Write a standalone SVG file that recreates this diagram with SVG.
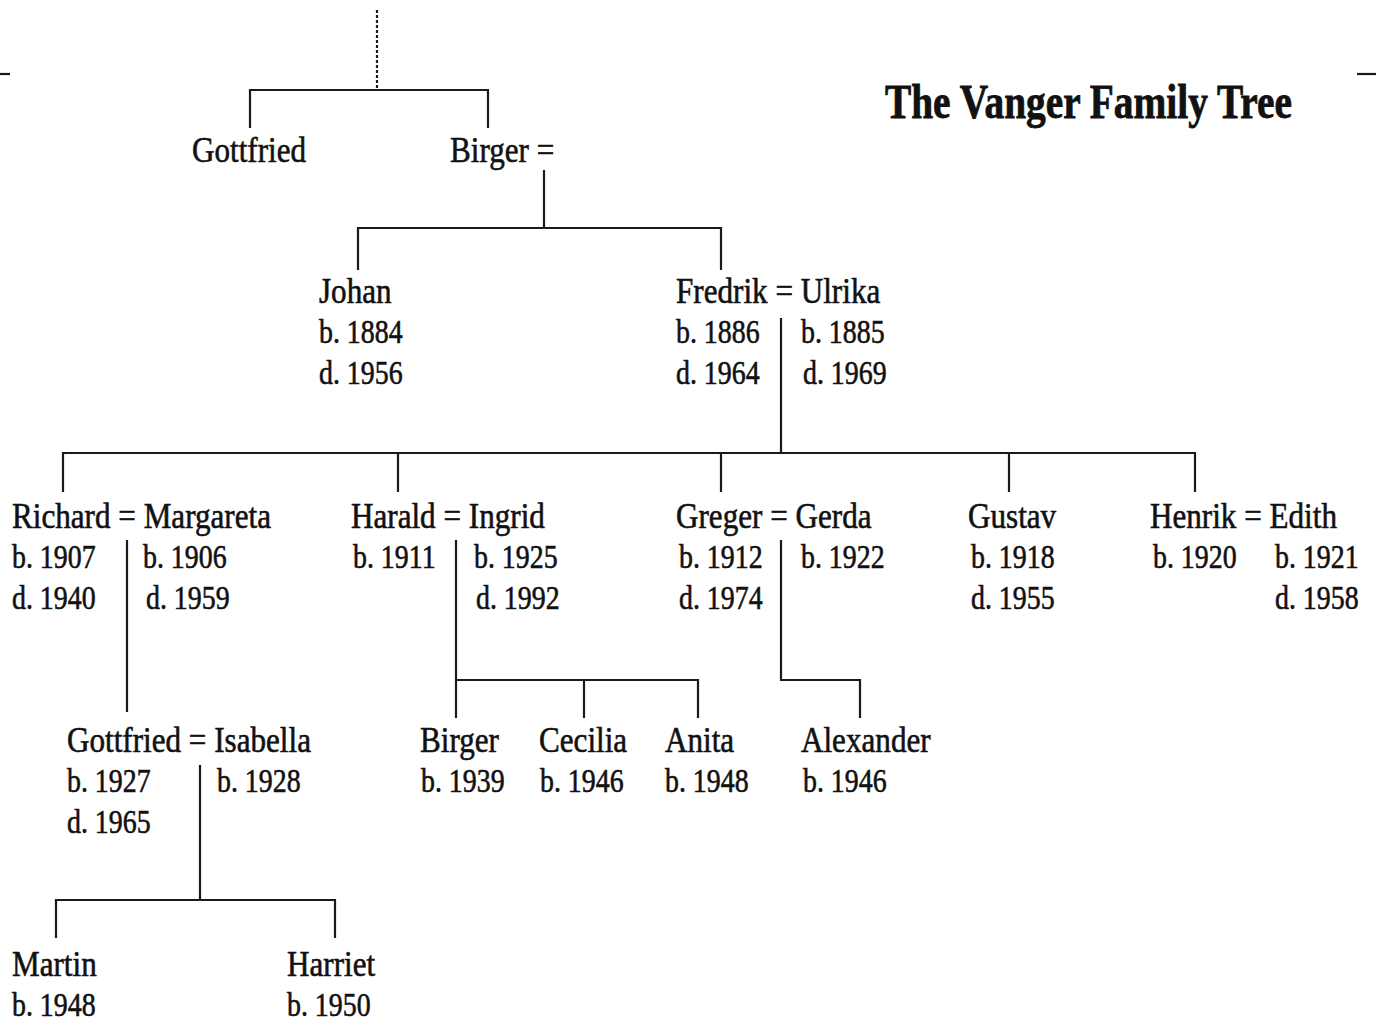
<svg xmlns="http://www.w3.org/2000/svg" width="1376" height="1024" viewBox="0 0 1376 1024">
<style>
text{font-family:"Liberation Serif","Times New Roman",serif;font-size:36px;fill:#111;stroke:#111;stroke-width:0.6}
.y{font-size:34px}
.t{font-weight:bold;font-size:48px;stroke-width:0.8}
.c line,.c path{stroke:#1a1a1a;stroke-width:2.2;fill:none}
.d{stroke-dasharray:3 2}
</style>
<rect width="1376" height="1024" fill="#fff"/>
<g id="title"><text class="t" transform="translate(885 118) scale(0.82 1)">The Vanger Family Tree</text></g>
<g id="marks" class="c"><line x1="0" y1="74" x2="10" y2="74"/><line x1="1357" y1="74" x2="1376" y2="74"/></g>
<g id="connectors" class="c">
<line class="d" x1="377" y1="10" x2="377" y2="90"/>
<path d="M250 128V90H488V128"/>
<path d="M544 170V228"/>
<path d="M358 270V228H721V270"/>
<path d="M781 318V453"/>
<path d="M63 492V453H1195V492"/>
<path d="M398 453V492M721 453V492M1009 453V492"/>
<path d="M127 540V712"/>
<path d="M456 540V718M456 680H698V718M584 680V718"/>
<path d="M781 540V680H860V718"/>
<path d="M200 765V900M56 938V900H335V938"/>
</g>
<g id="gottfried1"><text transform="translate(192 162) scale(0.865 1)">Gottfried</text></g>
<g id="birger1"><text transform="translate(450 162) scale(0.865 1)">Birger =</text></g>
<g id="johan">
<text transform="translate(319 303) scale(0.865 1)">Johan</text>
<text class="y" transform="translate(319 343) scale(0.82 1)">b. 1884</text>
<text class="y" transform="translate(319 384) scale(0.82 1)">d. 1956</text>
</g>
<g id="fredrik-ulrika">
<text transform="translate(676 303) scale(0.865 1)">Fredrik = Ulrika</text>
<text class="y" transform="translate(676 343) scale(0.82 1)">b. 1886</text>
<text class="y" transform="translate(676 384) scale(0.82 1)">d. 1964</text>
<text class="y" transform="translate(801 343) scale(0.82 1)">b. 1885</text>
<text class="y" transform="translate(803 384) scale(0.82 1)">d. 1969</text>
</g>
<g id="richard-margareta">
<text transform="translate(12 528) scale(0.865 1)">Richard = Margareta</text>
<text class="y" transform="translate(12 568) scale(0.82 1)">b. 1907</text>
<text class="y" transform="translate(12 609) scale(0.82 1)">d. 1940</text>
<text class="y" transform="translate(143 568) scale(0.82 1)">b. 1906</text>
<text class="y" transform="translate(146 609) scale(0.82 1)">d. 1959</text>
</g>
<g id="harald-ingrid">
<text transform="translate(351 528) scale(0.865 1)">Harald = Ingrid</text>
<text class="y" transform="translate(353 568) scale(0.82 1)">b. 1911</text>
<text class="y" transform="translate(474 568) scale(0.82 1)">b. 1925</text>
<text class="y" transform="translate(476 609) scale(0.82 1)">d. 1992</text>
</g>
<g id="greger-gerda">
<text transform="translate(676 528) scale(0.865 1)">Greger = Gerda</text>
<text class="y" transform="translate(679 568) scale(0.82 1)">b. 1912</text>
<text class="y" transform="translate(679 609) scale(0.82 1)">d. 1974</text>
<text class="y" transform="translate(801 568) scale(0.82 1)">b. 1922</text>
</g>
<g id="gustav">
<text transform="translate(968 528) scale(0.865 1)">Gustav</text>
<text class="y" transform="translate(971 568) scale(0.82 1)">b. 1918</text>
<text class="y" transform="translate(971 609) scale(0.82 1)">d. 1955</text>
</g>
<g id="henrik-edith">
<text transform="translate(1150 528) scale(0.865 1)">Henrik = Edith</text>
<text class="y" transform="translate(1153 568) scale(0.82 1)">b. 1920</text>
<text class="y" transform="translate(1275 568) scale(0.82 1)">b. 1921</text>
<text class="y" transform="translate(1275 609) scale(0.82 1)">d. 1958</text>
</g>
<g id="gottfried-isabella">
<text transform="translate(67 752) scale(0.865 1)">Gottfried = Isabella</text>
<text class="y" transform="translate(67 792) scale(0.82 1)">b. 1927</text>
<text class="y" transform="translate(67 833) scale(0.82 1)">d. 1965</text>
<text class="y" transform="translate(217 792) scale(0.82 1)">b. 1928</text>
</g>
<g id="birger2">
<text transform="translate(420 752) scale(0.865 1)">Birger</text>
<text class="y" transform="translate(421 792) scale(0.82 1)">b. 1939</text>
</g>
<g id="cecilia">
<text transform="translate(539 752) scale(0.865 1)">Cecilia</text>
<text class="y" transform="translate(540 792) scale(0.82 1)">b. 1946</text>
</g>
<g id="anita">
<text transform="translate(665 752) scale(0.865 1)">Anita</text>
<text class="y" transform="translate(665 792) scale(0.82 1)">b. 1948</text>
</g>
<g id="alexander">
<text transform="translate(801 752) scale(0.865 1)">Alexander</text>
<text class="y" transform="translate(803 792) scale(0.82 1)">b. 1946</text>
</g>
<g id="martin">
<text transform="translate(12 976) scale(0.865 1)">Martin</text>
<text class="y" transform="translate(12 1016) scale(0.82 1)">b. 1948</text>
</g>
<g id="harriet">
<text transform="translate(287 976) scale(0.865 1)">Harriet</text>
<text class="y" transform="translate(287 1016) scale(0.82 1)">b. 1950</text>
</g>
</svg>
